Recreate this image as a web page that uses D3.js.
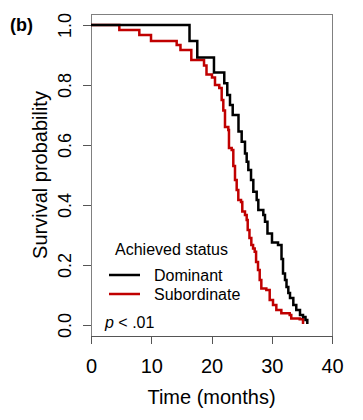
<!DOCTYPE html>
<meta charset="utf-8">
<style>
 body { margin: 0; background: #fff; font-family: 'Liberation Sans', Arial, sans-serif; }
 .axis path, .axis line { fill: none; stroke: #555; shape-rendering: crispEdges; }
 .axis text { fill: #000; }
</style>
<body>
<script src="https://cdn.jsdelivr.net/npm/d3@7"></script>
<script>

 // Kaplan-Meier steps: time in months, survival after the step
 var domTime = [0, 16.35, 17.64, 20.41, 22.12, 22.62, 23.07, 23.52, 24.48, 25.01, 25.56, 25.84,
                26.11, 26.56, 26.94, 27.50, 27.77, 28.60, 28.88, 29.29, 30.04, 31.04, 31.62,
                31.87, 32.20, 32.45, 32.75, 33.03, 33.58, 34.07, 34.69, 35.19, 35.60, 35.90];
 var domSurv = [1, 0.947, 0.892, 0.842, 0.806, 0.767, 0.733, 0.700, 0.645, 0.611, 0.572, 0.544,
                0.517, 0.483, 0.444, 0.417, 0.383, 0.367, 0.344, 0.305, 0.275, 0.267, 0.220,
                0.172, 0.150, 0.127, 0.107, 0.090, 0.067, 0.050, 0.033, 0.027, 0.017, 0.003];

 var subTime = [0, 4.70, 8.02, 9.96, 14.22, 14.85, 16.65, 18.76, 19.17, 20.08, 20.58, 21.29,
                21.69, 21.96, 22.24, 22.79, 22.90, 23.35, 23.62, 23.90, 24.18, 24.45, 24.90,
                25.11, 25.56, 25.84, 26.01, 26.30, 26.61, 26.90, 27.17, 27.40, 27.72, 28.00,
                28.27, 29.10, 29.66, 30.21, 30.76, 31.59, 32.98, 33.24, 34.64, 35.19];
 var subSurv = [1, 0.983, 0.967, 0.947, 0.933, 0.917, 0.883, 0.865, 0.835, 0.825, 0.800, 0.790,
                0.750, 0.715, 0.660, 0.650, 0.590, 0.583, 0.530, 0.483, 0.450, 0.417, 0.410,
                0.378, 0.367, 0.350, 0.317, 0.290, 0.267, 0.255, 0.244, 0.210, 0.183, 0.150,
                0.122, 0.117, 0.083, 0.067, 0.050, 0.039, 0.033, 0.022, 0.019, 0.003];

 var xTicks = [0, 10, 20, 30, 40];
 var yTicks = [0, 0.2, 0.4, 0.6, 0.8, 1.0];
 var seriesNames = ["Dominant", "Subordinate"];
 var seriesColors = ["#000000", "#c00000"];

 var width = 363, height = 420;
 var box = {left: 91, right: 332, top: 14, bottom: 336};

 var xScale = d3.scaleLinear().domain([0, 40]).range([box.left, box.right]);
 var yScale = d3.scaleLinear().domain([0, 1]).range([325, 25]);

 var svg = d3.select("body").append("svg")
             .attr("width", width)
             .attr("height", height);

 // plot box
 svg.append("rect")
    .attr("x", box.left).attr("y", box.top)
    .attr("width", box.right - box.left).attr("height", box.bottom - box.top)
    .attr("fill", "none").attr("stroke", "#808080").attr("stroke-width", 1)
    .attr("shape-rendering", "crispEdges");

 // x axis
 var gX = svg.append("g")
             .attr("class", "axis")
             .attr("transform", "translate(0," + box.bottom + ")")
             .call(d3.axisBottom(xScale).tickValues(xTicks).tickSize(8).tickPadding(15).tickSizeOuter(0))
             .attr("font-family", "'Liberation Sans', Arial, sans-serif")
             .attr("font-size", "20px");

 // y axis, labels turned like R does
 var gY = svg.append("g")
             .attr("class", "axis")
             .attr("transform", "translate(" + box.left + ",0)")
             .call(d3.axisLeft(yScale).tickValues(yTicks).tickSize(8).tickSizeOuter(0).tickFormat(d3.format(".1f")))
             .attr("font-family", "'Liberation Sans', Arial, sans-serif")
             .attr("font-size", "18px");
 gY.select(".domain").remove();
 gY.selectAll(".tick text")
   .attr("x", null)
   .attr("dy", "0.35em")
   .attr("text-anchor", "middle")
   .attr("transform", "translate(-26,0) rotate(-90)");

 // axis titles
 svg.append("text")
    .attr("x", (box.left + box.right) / 2)
    .attr("y", 404)
    .attr("text-anchor", "middle")
    .attr("font-size", "20px")
    .text("Time (months)");

 svg.append("text")
    .attr("transform", "translate(47," + (box.top + box.bottom) / 2 + ") rotate(-90)")
    .attr("text-anchor", "middle")
    .attr("font-size", "20px")
    .text("Survival probability");

 svg.append("text")
    .attr("x", 10).attr("y", 31)
    .attr("font-size", "18px")
    .attr("font-weight", "bold")
    .text("(b)");

 // survival curves
 var line = d3.line()
              .curve(d3.curveStepAfter)
              .x(function(d) { return xScale(d[0]); })
              .y(function(d) { return yScale(d[1]); });

 var series = [
     d3.zip(domTime, domSurv),
     d3.zip(subTime, subSurv)
 ];

 // draw red first so black sits on top where they overlap
 [1, 0].forEach(function(i) {
     svg.append("path")
        .datum(series[i])
        .attr("fill", "none")
        .attr("stroke", seriesColors[i])
        .attr("stroke-width", 2.5)
        .attr("stroke-linejoin", "miter")
        .attr("d", line);
 });

 // legend
 svg.append("text")
    .attr("x", 115).attr("y", 255)
    .attr("font-size", "16px")
    .text("Achieved status");

 seriesNames.forEach(function(name, i) {
     var ly = 275 + i * 19;
     svg.append("line")
        .attr("x1", 109).attr("x2", 140)
        .attr("y1", ly).attr("y2", ly)
        .attr("stroke", seriesColors[i])
        .attr("stroke-width", 2.5);
     svg.append("text")
        .attr("x", 154).attr("y", ly + 6)
        .attr("font-size", "16px")
        .text(name);
 });

 var pText = svg.append("text")
                .attr("x", 105).attr("y", 328)
                .attr("font-size", "16px");
 pText.append("tspan").attr("font-style", "italic").text("p");
 pText.append("tspan").text(" < .01");

</script>
</body>
